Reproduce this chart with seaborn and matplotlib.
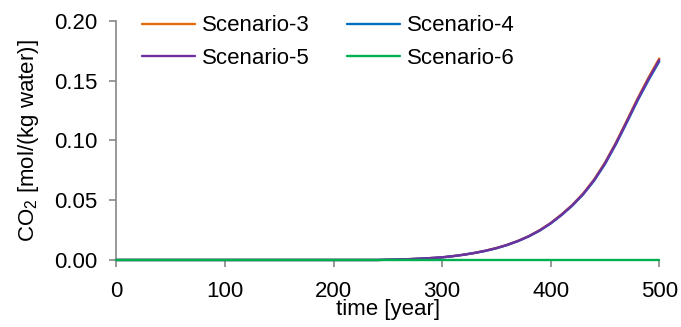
import numpy as np
import pandas as pd
import matplotlib
matplotlib.use("Agg")
import matplotlib.pyplot as plt
import seaborn as sns

years = [0, 50, 100, 150, 200, 240, 250, 260, 270, 280, 290, 300, 310, 320, 330, 340,
         350, 360, 370, 380, 390, 400, 410, 420, 430, 440, 450, 460, 470, 480, 490, 500]
scenario_3 = [0, 0, 0, 0, 0, 0, 0.0002, 0.0004, 0.0007, 0.0011, 0.0016, 0.0022, 0.0032,
              0.0044, 0.0059, 0.0078, 0.0100, 0.0127, 0.0160, 0.0200, 0.0250, 0.0309,
              0.0381, 0.0461, 0.0557, 0.0673, 0.0814, 0.0980, 0.1163, 0.1350, 0.1524, 0.1685]
scenario_4 = [0, 0, 0, 0, 0, 0, 0.0002, 0.0004, 0.0007, 0.0011, 0.0016, 0.0022, 0.0032,
              0.0044, 0.0059, 0.0076, 0.0098, 0.0125, 0.0158, 0.0198, 0.0246, 0.0305,
              0.0375, 0.0455, 0.0549, 0.0663, 0.0802, 0.0966, 0.1147, 0.1332, 0.1502, 0.1661]
scenario_5 = [0, 0, 0, 0, 0, 0, 0.0002, 0.0004, 0.0007, 0.0011, 0.0016, 0.0022, 0.0032,
              0.0044, 0.0059, 0.0077, 0.0099, 0.0126, 0.0159, 0.0199, 0.0248, 0.0307,
              0.0378, 0.0458, 0.0553, 0.0668, 0.0808, 0.0973, 0.1155, 0.1341, 0.1513, 0.1673]
scenario_6 = [0] * len(years)

names = ["Scenario-3", "Scenario-4", "Scenario-5", "Scenario-6"]
colors = ["#E46C0A", "#0070C0", "#7030A0", "#00B050"]

frames = []
for name, vals in zip(names, [scenario_3, scenario_4, scenario_5, scenario_6]):
    frames.append(pd.DataFrame({"time": years, "co2": vals, "scenario": name}))
df = pd.concat(frames, ignore_index=True)

sns.set_theme(style="white")
plt.rcParams["font.family"] = ["Liberation Sans", "DejaVu Sans"]
plt.rcParams["mathtext.fontset"] = "custom"
plt.rcParams["mathtext.rm"] = "Liberation Sans"
plt.rcParams["mathtext.it"] = "Liberation Sans:italic"
plt.rcParams["text.color"] = "black"
plt.rcParams["axes.labelcolor"] = "black"
plt.rcParams["xtick.color"] = "#888888"
plt.rcParams["ytick.color"] = "#888888"
plt.rcParams["xtick.labelcolor"] = "black"
plt.rcParams["ytick.labelcolor"] = "black"

fig = plt.figure(figsize=(6.81, 3.27), dpi=100)
ax = fig.add_axes([0.171, 0.205, 0.797, 0.731])

sns.lineplot(data=df, x="time", y="co2", hue="scenario", hue_order=names,
             palette=dict(zip(names, colors)), linewidth=1.7, ax=ax, legend=False)
for ln in ax.lines:
    ln.set_clip_on(False)
    ln.set_zorder(5)

ax.set_xlim(0, 500)
ax.set_ylim(0, 0.20)
ax.set_xticks([0, 100, 200, 300, 400, 500])
ax.set_yticks([0, 0.05, 0.10, 0.15, 0.20])
ax.set_yticklabels(["0.00", "0.05", "0.10", "0.15", "0.20"])
ax.tick_params(axis="both", labelsize=16, length=5, width=1.2,
               direction="out", left=True, bottom=True)
ax.tick_params(axis="y", pad=9)
ax.tick_params(axis="x", pad=10)
for s in ["top", "right"]:
    ax.spines[s].set_visible(False)
for s in ["left", "bottom"]:
    ax.spines[s].set_color("#888888")
    ax.spines[s].set_linewidth(1.2)
ax.set_xlabel("time [year]", fontsize=16, labelpad=-2)
ax.set_ylabel("CO$_2$ [mol/(kg water)]", fontsize=16, labelpad=9)

handle_map = {n: plt.Line2D([], [], color=c, linewidth=1.7) for n, c in zip(names, colors)}
order = ["Scenario-3", "Scenario-5", "Scenario-4", "Scenario-6"]
ax.legend([handle_map[n] for n in order], order, ncol=2, loc="upper left",
          bbox_to_anchor=(0.03, 1.06), frameon=False, fontsize=16,
          handlelength=2.4, handletextpad=0.3, columnspacing=1.7,
          labelspacing=0.5, borderaxespad=0)

fig.savefig("out.png", dpi=100)
